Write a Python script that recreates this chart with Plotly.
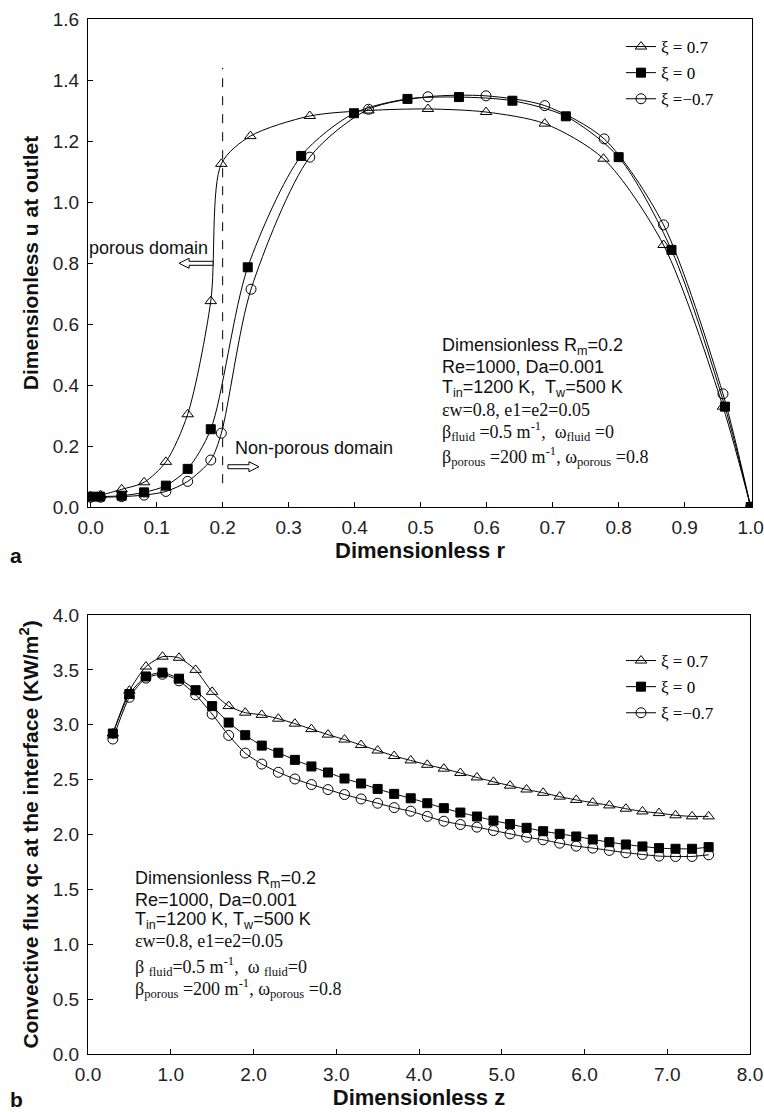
import plotly.graph_objects as go

# ---------------- Panel a data ----------------
r_tri = [0.0, 0.015, 0.047, 0.081, 0.114, 0.147, 0.182, 0.198, 0.242, 0.332, 0.421,
         0.511, 0.599, 0.688, 0.777, 0.868, 0.958, 1.0]
u_tri = [0.035, 0.039, 0.058, 0.081, 0.148, 0.304, 0.675, 1.125, 1.216, 1.282, 1.300,
         1.305, 1.295, 1.257, 1.142, 0.859, 0.329, 0.0]
r_sq = [0.0, 0.014, 0.047, 0.081, 0.114, 0.147, 0.182, 0.238, 0.319, 0.399, 0.480,
        0.558, 0.639, 0.720, 0.800, 0.880, 0.961, 1.0]
u_sq = [0.034, 0.034, 0.037, 0.048, 0.070, 0.125, 0.255, 0.786, 1.151, 1.291, 1.338,
        1.344, 1.332, 1.281, 1.147, 0.843, 0.329, 0.0]
r_cir = [0.0, 0.015, 0.047, 0.081, 0.114, 0.147, 0.182, 0.198, 0.243, 0.332, 0.421,
         0.511, 0.599, 0.688, 0.778, 0.868, 0.958, 1.0]
u_cir = [0.032, 0.032, 0.034, 0.039, 0.051, 0.084, 0.154, 0.242, 0.714, 1.147, 1.304,
         1.345, 1.348, 1.316, 1.207, 0.925, 0.371, 0.0]

# ---------------- Panel b data ----------------
z_pts = [0.3, 0.5, 0.7, 0.9, 1.1, 1.3, 1.5, 1.7, 1.9, 2.1, 2.3, 2.5, 2.7, 2.9, 3.1,
         3.3, 3.5, 3.7, 3.9, 4.1, 4.3, 4.5, 4.7, 4.9, 5.1, 5.3, 5.5, 5.7, 5.9, 6.1,
         6.3, 6.5, 6.7, 6.9, 7.1, 7.3, 7.5]
q_tri = [2.92, 3.31, 3.53, 3.62, 3.61, 3.50, 3.30, 3.17, 3.11, 3.09, 3.055, 3.01, 2.96,
         2.91, 2.865, 2.815, 2.765, 2.715, 2.675, 2.635, 2.60, 2.56, 2.52, 2.48, 2.445,
         2.41, 2.38, 2.345, 2.315, 2.29, 2.265, 2.235, 2.21, 2.195, 2.175, 2.165, 2.165]
q_sq = [2.92, 3.28, 3.44, 3.475, 3.42, 3.315, 3.17, 3.02, 2.905, 2.81, 2.745, 2.68, 2.62,
        2.565, 2.51, 2.465, 2.415, 2.37, 2.33, 2.285, 2.24, 2.20, 2.164, 2.127, 2.095,
        2.061, 2.03, 2.006, 1.982, 1.955, 1.93, 1.909, 1.891, 1.876, 1.87, 1.87, 1.885]
q_cir = [2.87, 3.25, 3.425, 3.46, 3.40, 3.273, 3.097, 2.903, 2.742, 2.642, 2.567, 2.506,
         2.455, 2.409, 2.364, 2.324, 2.285, 2.245, 2.212, 2.165, 2.121, 2.091, 2.067,
         2.036, 2.006, 1.976, 1.952, 1.921, 1.894, 1.876, 1.855, 1.834, 1.818, 1.803,
         1.80, 1.80, 1.815]

names = ["\u03be = 0.7", "\u03be = 0", "\u03be =\u22120.7"]

W, H = 764, 1112
SANS = "Liberation Sans, Arial, sans-serif"
SERIF = "Liberation Serif, Times New Roman, serif"

fig = go.Figure()

marker_styles = [
    dict(symbol="triangle-up-open", size=10, color="black", line=dict(width=1, color="black")),
    dict(symbol="square", size=9, color="black", line=dict(width=1, color="black")),
    dict(symbol="circle-open", size=10, color="black", line=dict(width=1, color="black")),
]

top_series = [(r_tri, u_tri), (r_sq, u_sq), (r_cir, u_cir)]
for i, (xs, ys) in enumerate(top_series):
    fig.add_trace(go.Scatter(
        x=xs, y=ys, name=names[i], mode="lines+markers",
        line=dict(color="black", width=1, shape="spline", smoothing=0.8),
        marker=marker_styles[i], xaxis="x", yaxis="y",
        legend="legend", legendgroup="a%d" % i))

bot_series = [(z_pts, q_tri), (z_pts, q_sq), (z_pts, q_cir)]
for i, (xs, ys) in enumerate(bot_series):
    fig.add_trace(go.Scatter(
        x=xs, y=ys, name=names[i], mode="lines+markers",
        line=dict(color="black", width=1, shape="spline", smoothing=0.6),
        marker=marker_styles[i], xaxis="x2", yaxis="y2",
        legend="legend2", legendgroup="b%d" % i))

axis_common = dict(showline=True, mirror=True, linecolor="black", linewidth=1.2,
                   ticks="inside", ticklen=5, tickwidth=1.2, tickcolor="black",
                   showgrid=False, zeroline=False, automargin=False,
                   tickformat=".1f",
                   tickfont=dict(family=SANS, size=19, color="#222"))

XT = dict(family=SANS, size=22, color="#111")
YT = dict(family=SANS, size=21, color="#111")

fig.update_layout(
    width=W, height=H, margin=dict(l=0, r=0, t=0, b=0),
    paper_bgcolor="white", plot_bgcolor="white",
    xaxis=dict(domain=[88 / W, 752 / W], range=[-0.004, 1.002], anchor="y",
               tick0=0, dtick=0.1,
               ticklabelstandoff=3,
               title=dict(text="<b>Dimensionless r</b>", font=XT, standoff=4),
               **axis_common),
    yaxis=dict(domain=[1 - 507 / H, 1 - 19 / H], range=[0, 1.6], anchor="x",
               tick0=0, dtick=0.2,
               ticklabelstandoff=4,
               title=dict(text="<b>Dimensionless u at outlet</b>", font=YT, standoff=8),
               **axis_common),
    xaxis2=dict(domain=[88 / W, 750 / W], range=[0, 8], anchor="y2",
                tick0=0, dtick=1,
                ticklabelstandoff=3,
                title=dict(text="<b>Dimensionless z</b>", font=XT, standoff=4),
                **axis_common),
    yaxis2=dict(domain=[1 - 1054 / H, 1 - 615 / H], range=[0, 4], anchor="x2",
                tick0=0, dtick=0.5,
                ticklabelstandoff=4,
                title=dict(text="<b>Convective flux qc at the interface (KW/m<sup>2</sup>)</b>",
                           font=YT, standoff=8),
                **axis_common),
    legend=dict(x=621 / W, y=1 - 29 / H, xanchor="left", yanchor="top",
                font=dict(family=SERIF, size=17, color="black"), bgcolor="rgba(0,0,0,0)",
                traceorder="grouped", tracegroupgap=1),
    legend2=dict(x=621 / W, y=1 - 643 / H, xanchor="left", yanchor="top",
                 font=dict(family=SERIF, size=17, color="black"), bgcolor="rgba(0,0,0,0)",
                 traceorder="grouped", tracegroupgap=1),
)

# dashed interface line and hollow arrows in panel a
shapes = [
    dict(type="line", xref="x", yref="y", x0=0.2, x1=0.2, y0=0.078, y1=1.44,
         line=dict(color="black", width=1, dash="dash")),
    dict(type="path", xref="x", yref="y", xsizemode="pixel", ysizemode="pixel",
         xanchor=0.134, yanchor=0.799,
         path="M0,0 L10,5 L10,2 L34,2 L34,-2 L10,-2 L10,-5 Z",
         line=dict(color="black", width=1), fillcolor="white"),
    dict(type="path", xref="x", yref="y", xsizemode="pixel", ysizemode="pixel",
         xanchor=0.255, yanchor=0.132,
         path="M0,0 L-10,5 L-10,2 L-31,2 L-31,-2 L-10,-2 L-10,-5 Z",
         line=dict(color="black", width=1), fillcolor="white"),
]
fig.update_layout(shapes=shapes)

ann = []
def txt(x, y, text, family, size, xref="x", yref="y", xanchor="left", color="#111", **kw):
    ann.append(dict(x=x, y=y, xref=xref, yref=yref, text=text, showarrow=False,
                    xanchor=xanchor, yanchor="middle",
                    font=dict(family=family, size=size, color=color), **kw))

txt(0.181, 0.848, "porous domain", SANS, 18, xanchor="right")
txt(0.215, 0.193, "Non-porous domain", SANS, 18)

top_lines = [
    ("Dimensionless R<sub>m</sub>=0.2", SANS, 0.526),
    ("Re=1000, Da=0.001", SANS, 0.460),
    ("T<sub>in</sub>=1200 K,  T<sub>w</sub>=500 K", SANS, 0.389),
    ("\u03b5w=0.8, e1=e2=0.05", SERIF, 0.318),
    ("\u03b2<sub>fluid</sub> =0.5 m<sup>-1</sup>,  \u03c9<sub>fluid</sub> =0", SERIF, 0.247),
    ("\u03b2<sub>porous</sub> =200 m<sup>-1</sup>, \u03c9<sub>porous</sub> =0.8", SERIF, 0.165),
]
for t, f, yy in top_lines:
    txt(0.529, yy, t, f, 18)

bot_lines = [
    ("Dimensionless R<sub>m</sub>=0.2", SANS, 1.588),
    ("Re=1000, Da=0.001", SANS, 1.406),
    ("T<sub>in</sub>=1200 K, T<sub>w</sub>=500 K", SANS, 1.218),
    ("\u03b5w=0.8, e1=e2=0.05", SERIF, 1.03),
    ("\u03b2 <sub>fluid</sub>=0.5 m<sup>-1</sup>,  \u03c9 <sub>fluid</sub>=0", SERIF, 0.794),
    ("\u03b2<sub>porous</sub> =200 m<sup>-1</sup>, \u03c9<sub>porous</sub> =0.8", SERIF, 0.597),
]
for t, f, yy in bot_lines:
    txt(0.548, yy, t, f, 18, xref="x2", yref="y2")

txt(16 / W, 1 - 555 / H, "<b>a</b>", SANS, 21, xref="paper", yref="paper", xanchor="center")
txt(16 / W, 1 - 1099 / H, "<b>b</b>", SANS, 21, xref="paper", yref="paper", xanchor="center")

fig.update_layout(annotations=ann)

fig.write_html("out.html")
